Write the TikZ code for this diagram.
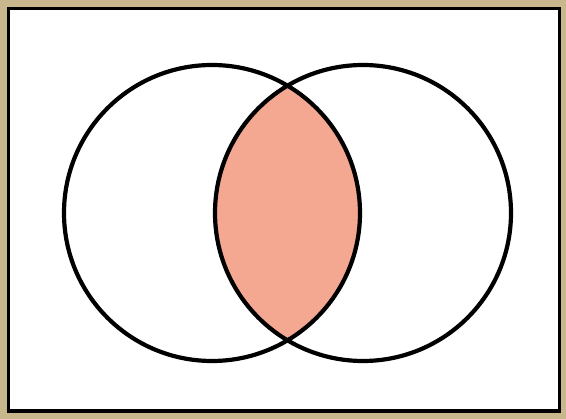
\documentclass[tikz,border=0pt]{standalone}
\begin{document}
\begin{tikzpicture}[x=1pt,y=-1pt]
\definecolor{frametan}{RGB}{200,182,140}
\definecolor{lens}{RGB}{245,168,145}
\tikzset{circ/.style={draw=black,line width=4.2pt}}
\fill[frametan] (0,0) rectangle (566,419);
\draw[fill=white,line width=3.5pt] (8.5,8.5) rectangle (559.5,411);
\coordinate (cl) at (212,213);
\coordinate (cr) at (363,213);
\begin{scope}
\clip (cl) circle (148);
\fill[lens] (cr) circle (148);
\end{scope}
\draw[circ] (cl) circle (148);
\draw[circ] (cr) circle (148);
\end{tikzpicture}
\end{document}
